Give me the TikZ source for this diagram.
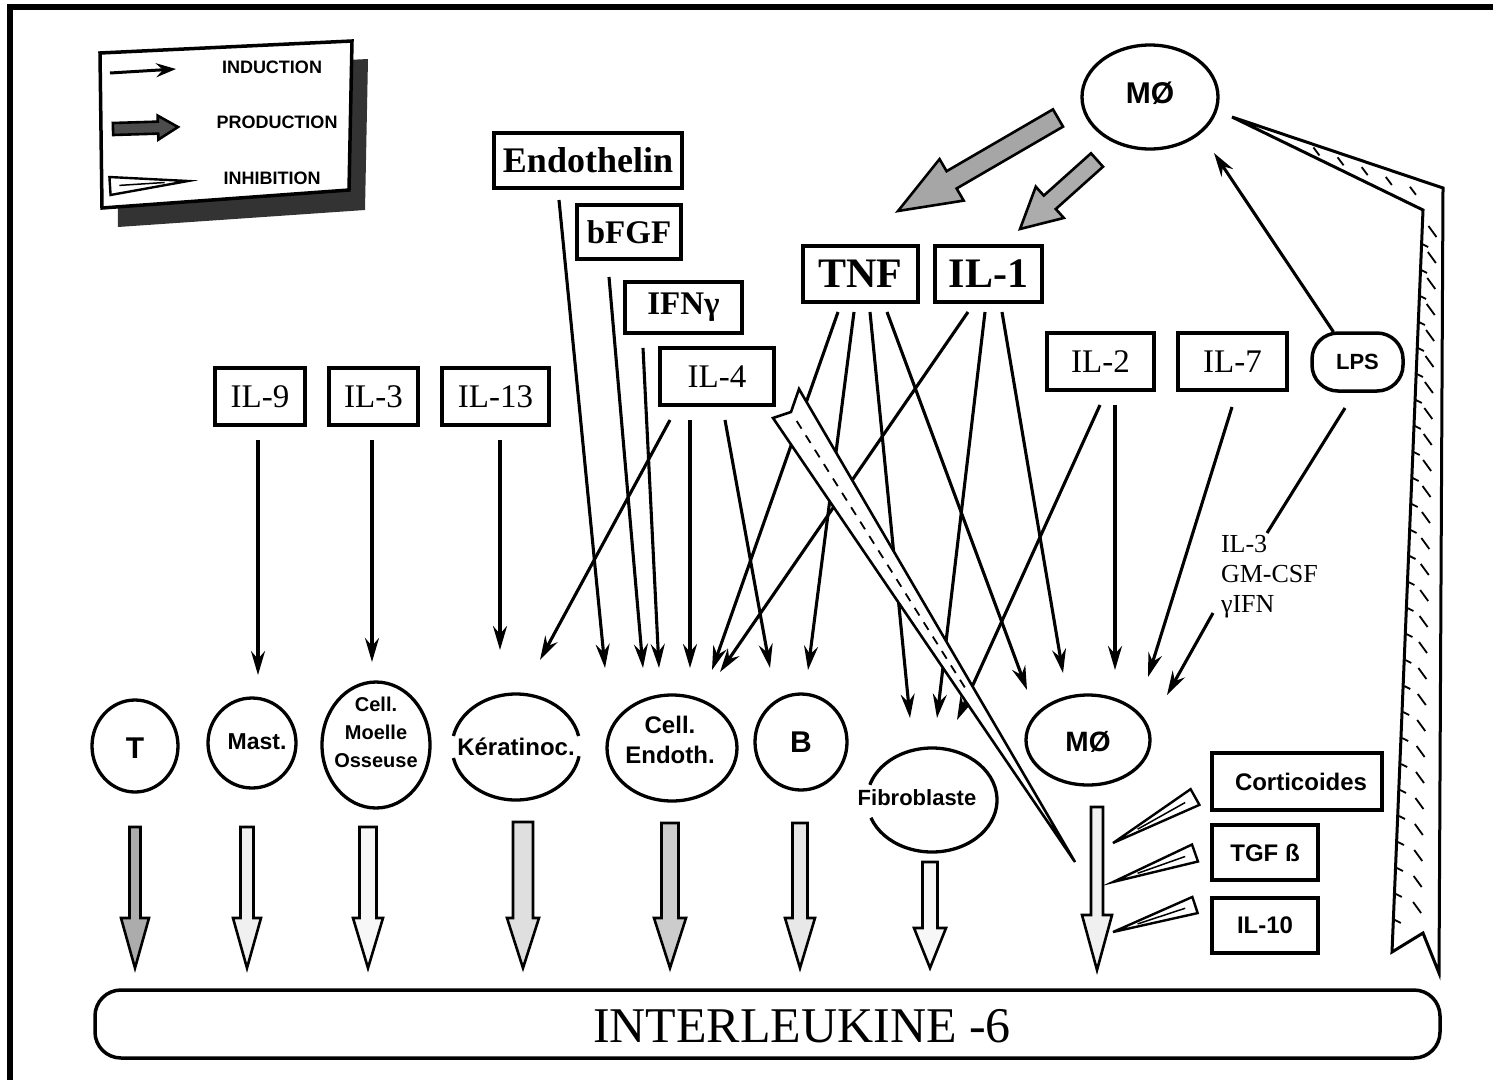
\documentclass[tikz,border=0pt]{standalone}
\usepackage{fontspec}
\setmainfont{Liberation Serif}
\setsansfont{Liberation Sans}
\usetikzlibrary{arrows.meta,calc,shapes.geometric}

\newcommand{\fsz}[1]{\fontsize{#1}{#1}\selectfont}

% block arrow: tail, tip, shaft half width, head half width, head length, fill
\newcommand{\blockarr}[6]{%
  \draw[line width=2.6pt, fill=#6, line join=miter]
    ($(#1)!#3!90:(#2)$) -- ($(#2)!#5!(#1)!#3!90:(#2)$) -- ($(#2)!#5!(#1)!#4!90:(#2)$)
    -- (#2) -- ($(#2)!#5!(#1)!#4!-90:(#2)$) -- ($(#2)!#5!(#1)!#3!-90:(#2)$)
    -- ($(#1)!#3!-90:(#2)$) -- cycle;}

% inhibition wedge: wide end, tip, half width
\newcommand{\inhwedge}[3]{%
  \draw[line width=2.4pt, fill=white, line join=miter]
    ($(#1)!#3!90:(#2)$) -- (#2) -- ($(#1)!#3!-90:(#2)$) -- cycle;
  \draw[line width=1.5pt] ($(#1)!0.12!(#2)$) -- ($(#1)!0.7!(#2)$);}

\begin{document}
\begin{tikzpicture}[x=1pt,y=-1pt,
  every node/.style={inner sep=0pt, outer sep=0pt},
  ind/.style={line width=3.1pt, -{Stealth[length=24pt,width=14pt,inset=8pt]}},
  factor/.style={draw, line width=3.5pt, font={\fsz{33}}},
  factorb/.style={factor, font={\fsz{33}\bfseries}},
  cell/.style={draw, line width=3.3pt, ellipse},
  cellfree/.style={ellipse},
  celltxt/.style={font={\sffamily\bfseries\fsz{24}}, align=center},
  sidebox/.style={draw, line width=3.5pt, font={\sffamily\bfseries\fsz{24}}},
  leg/.style={font={\sffamily\bfseries\fsz{18}}},
  arcline/.style={line width=3.3pt},
  hatch/.style={line width=1.8pt}]

\useasboundingbox (0,0) rectangle (1493,1079);
\fill[white] (0,0) rectangle (1493,1079);

% outer frame
\draw[line width=6pt] (10,1085) -- (10,6.5) -- (1500,6.5);

% ---------- legend ----------
\fill[black!80] (116,71) -- (368,59) -- (365,210) -- (118,227) -- cycle;
\draw[line width=3.5pt, fill=white] (100,53) -- (352,41) -- (349,190) -- (102,208) -- cycle;
\coordinate (li1) at (110,73); \coordinate (li2) at (176,69);
\draw[line width=3pt, -{Stealth[length=20pt,width=14pt,inset=7pt]}] (li1) -- (li2);
\node[leg] (lgind) at (272,67) {INDUCTION};
\coordinate (lp1) at (113,129); \coordinate (lp2) at (178,127);
\blockarr{lp1}{lp2}{6pt}{12pt}{20pt}{black!70}
\node[leg] (lgprod) at (277,122) {PRODUCTION};
\coordinate (lw1) at (110,186); \coordinate (lw2) at (188,181);
\inhwedge{lw1}{lw2}{9pt}
\node[leg] (lginh) at (272,178) {INHIBITION};

% ---------- macrophage (top) ----------
\node[cell, minimum width=136pt, minimum height=104pt] (mtop) at (1150,97) {};
\node[celltxt, font={\sffamily\bfseries\fsz{30}}] (mtoptxt) at (1150,93) {MØ};

% ---------- factor boxes ----------
\node[factorb, font={\fsz{36}\bfseries}, minimum width=188pt, minimum height=55pt] (endo) at (588,160.5) {Endothelin};
\node[factorb, minimum width=104pt, minimum height=54pt] (bfgf) at (629,232) {bFGF};
\node[factorb, minimum width=117pt, minimum height=51pt] (ifng) at (683.5,307.5) {IFNγ};
\node[factor, minimum width=114pt, minimum height=57pt] (il4) at (717,376.5) {IL-4};
\node[factorb, font={\fsz{42}\bfseries}, minimum width=115pt, minimum height=56pt] (tnf) at (860.5,274) {TNF};
\node[factorb, font={\fsz{42}\bfseries}, minimum width=107pt, minimum height=56pt] (il1) at (988.5,274) {IL-1};
\node[factor, minimum width=90pt, minimum height=57pt] (il9) at (260,396.5) {IL-9};
\node[factor, minimum width=89pt, minimum height=57pt] (il3) at (373.5,396.5) {IL-3};
\node[factor, minimum width=107pt, minimum height=57pt] (il13) at (495.5,396.5) {IL-13};
\node[factor, minimum width=107pt, minimum height=57pt] (il2) at (1100.5,361.5) {IL-2};
\node[factor, minimum width=109pt, minimum height=57pt] (il7) at (1232.5,361.5) {IL-7};
\node[draw, line width=3.5pt, rounded corners=26pt, minimum width=91pt, minimum height=58pt,
      font={\sffamily\bfseries\fsz{22}}] (lps) at (1357.5,362) {LPS};

% ---------- target cells ----------
\node[cell, minimum width=86pt, minimum height=92pt] (tc) at (135,746) {};
\node[celltxt, font={\sffamily\bfseries\fsz{30}}] (tct) at (135,748) {T};
\node[cell, minimum width=88pt, minimum height=90pt] (mast) at (252,743) {};
\node[celltxt, font={\sffamily\bfseries\fsz{23}}] (mastt) at (257,742) {Mast.};
\node[cell, minimum width=108pt, minimum height=126pt] (moel) at (376,745) {};
\node[celltxt, font={\sffamily\bfseries\fontsize{20}{28}\selectfont}] (moelt) at (376,732) {Cell.\\Moelle\\Osseuse};
\node[cellfree, minimum width=128pt, minimum height=106pt] (ker) at (516,747) {};
\draw[arcline] (ker.center) ++(12:64pt and 53pt) arc[start angle=12, end angle=168, x radius=64pt, y radius=53pt];
\draw[arcline] (ker.center) ++(192:64pt and 53pt) arc[start angle=192, end angle=350, x radius=64pt, y radius=53pt];
\node[celltxt] (kert) at (516,747) {Kératinoc.};
\node[cell, minimum width=130pt, minimum height=106pt] (endc) at (672,748) {};
\node[celltxt, font={\sffamily\bfseries\fontsize{24}{30}\selectfont}] (endct) at (670,740) {Cell.\\Endoth.};
\node[cell, minimum width=92pt, minimum height=96pt] (bc) at (801,742) {};
\node[celltxt, font={\sffamily\bfseries\fsz{30}}] (bct) at (801,742) {B};
\node[cellfree, minimum width=130pt, minimum height=104pt] (fib) at (932,800) {};
\draw[arcline] (fib.center) ++(200:65pt and 52pt) arc[start angle=200, end angle=523, x radius=65pt, y radius=52pt];
\node[celltxt, font={\sffamily\bfseries\fsz{22}}] (fibt) at (917,798) {Fibroblaste};
\node[cell, minimum width=124pt, minimum height=90pt] (mb) at (1088,740) {};
\node[celltxt, font={\sffamily\bfseries\fsz{28}}] (mbt) at (1088,742) {MØ};

% ---------- inhibitors ----------
\node[sidebox, minimum width=170pt, minimum height=57pt] (cort) at (1297,781.5) {\hspace*{8pt}Corticoides};
\node[sidebox, minimum width=106pt, minimum height=55pt] (tgf) at (1265,852.5) {TGF ß};
\node[sidebox, minimum width=106pt, minimum height=55pt] (il10) at (1265,925.5) {IL-10};

% ---------- result bar ----------
\node[draw, line width=3.5pt, rounded corners=26pt, minimum width=1345pt, minimum height=68pt] (bar) at (767.5,1024) {};
\node[font={\fsz{50}}] (bartxt) at (802,1026) {INTERLEUKINE -6};

% ---------- production by the macrophage ----------
\coordinate (pa1) at (1058,118); \coordinate (pa2) at (898,211);
\blockarr{pa1}{pa2}{10pt}{24pt}{62pt}{gray!70}
\coordinate (pb1) at (1097,160); \coordinate (pb2) at (1020,229);
\blockarr{pb1}{pb2}{9pt}{21pt}{40pt}{gray!65}

% ---------- inhibition band from the macrophage ----------
\coordinate (bt) at (1232,117);
\coordinate (bcm) at (1433,199);
\draw[line width=3pt, fill=white, line join=miter]
  (bt) -- (1443,188) -- (1439,973) -- (1423,933) -- (1392,952) -- (1423,210) -- cycle;
\foreach \yy in {232,258,...,920} {
  \pgfmathsetmacro{\xin}{1423-0.0404*(\yy-210)}
  \pgfmathsetmacro{\xout}{1443-0.0051*(\yy-188)}
  \pgfmathsetmacro{\xc}{(\xin+\xout)/2}
  \draw[hatch] (\xc-4,\yy-6) -- (\xc+4,\yy+5);
  \draw[hatch] (\xin,\yy+12) -- (\xin+6,\yy+15);
}
\foreach \t in {0.42,0.54,0.66,0.78,0.9} {
  \draw[hatch] ($(bt)!\t!(bcm)$) ++(-3,-4) -- ++(6,8);
}

% ---------- induction arrows ----------
\draw[ind] ($(il9.south)+(-2,15)$) -- ($(mast.north)+(6,-23)$);
\draw[ind] ($(il3.south)+(-1.5,15)$) -- ($(moel.north)+(-4,-20)$);
\draw[ind] ($(il13.south)+(4.5,15)$) -- ($(ker.north)+(-16,-44)$);
\draw[ind] ($(endo.south)+(-29,12)$) -- ($(endc.north)+(-67,-27)$);
\draw[ind] ($(bfgf.south)+(-20,18)$) -- ($(endc.north)+(-29,-27)$);
\draw[ind] ($(ifng.south)+(-40.5,15)$) -- ($(endc.north)+(-13,-27)$);
\draw[ind] ($(il4.south)+(-47,15)$) -- ($(ker.north)+(24,-34)$);
\draw[ind] ($(il4.south)+(-27,15)$) -- ($(endc.north)+(18,-27)$);
\draw[ind] ($(il4.south)+(8,15)$) -- ($(bc.north)+(-31,-26)$);
\draw[ind] ($(tnf.south)+(-22.5,10)$) -- ($(endc.north)+(40,-25)$);
\draw[ind] ($(tnf.south)+(-6.5,10)$) -- ($(bc.north)+(7,-24)$);
\draw[ind] ($(tnf.south)+(9.5,10)$) -- ($(fib.north)+(-22,-30)$);
\draw[ind] ($(tnf.south)+(26.5,10)$) -- ($(mb.north)+(-61,-5)$);
\draw[ind] ($(il1.south)+(-20.5,10)$) -- ($(endc.north)+(48,-23)$);
\draw[ind] ($(il1.south)+(-3.5,10)$) -- ($(fib.north)+(5,-30)$);
\draw[ind] ($(il1.south)+(13.5,10)$) -- ($(mb.north)+(-25,-22)$);
\draw[ind] ($(il2.south)+(-0.5,15)$) -- ($(fib.north)+(25,-28)$);
\draw[ind] ($(il2.south)+(14.5,15)$) -- ($(mb.north)+(27,-25)$);
\draw[ind] ($(il7.south)+(-0.5,17)$) -- ($(mb.north)+(60,-18)$);
\draw[ind] ($(lps.north)+(-24,-1)$) -- ($(mtop.center)+(64,56)$);

\node[font={\fontsize{26}{30}\selectfont}, align=left, anchor=west] (cyto) at (1221,577) {IL-3\\GM-CSF\\γIFN};
\coordinate (cytotop) at (1267,533);
\coordinate (cytobot) at (1213,613);
\draw[line width=3.1pt] ($(lps.south)+(-12.5,17)$) -- (cytotop);
\draw[ind] (cytobot) -- ($(mb.north)+(79,0)$);

% ---------- IL-4 inhibition wedge ----------
\coordinate (w4t) at (1075,862);
\coordinate (w4a) at (791,412);
\draw[line width=2.6pt, fill=white, line join=miter]
  (w4t) -- (773,418) -- (w4a) -- (799,389) -- cycle;
\draw[line width=1.8pt, dash pattern=on 9pt off 8pt] ($(w4a)!0.02!(w4t)$) -- ($(w4a)!0.62!(w4t)$);

% ---------- production towards IL-6 ----------
\coordinate (dT1) at ($(tc.south)+(0,35)$);   \coordinate (dT2) at ($(tc.south |- bar.north)+(0,-22)$);
\blockarr{dT1}{dT2}{5.5pt}{14pt}{50pt}{gray!65}
\coordinate (dM1) at ($(mast.south)+(-5,39)$); \coordinate (dM2) at ($(mast.south |- bar.north)+(-5,-22)$);
\blockarr{dM1}{dM2}{6.5pt}{14pt}{50pt}{gray!12}
\coordinate (dO1) at ($(moel.south)+(-8,19)$); \coordinate (dO2) at ($(moel.south |- bar.north)+(-8,-22)$);
\blockarr{dO1}{dO2}{8.5pt}{15pt}{50pt}{gray!6}
\coordinate (dK1) at ($(ker.south)+(7,22)$);  \coordinate (dK2) at ($(ker.south |- bar.north)+(7,-22)$);
\blockarr{dK1}{dK2}{10pt}{16pt}{50pt}{gray!25}
\coordinate (dE1) at ($(endc.south)+(-2,22)$); \coordinate (dE2) at ($(endc.south |- bar.north)+(-2,-22)$);
\blockarr{dE1}{dE2}{8.5pt}{16pt}{50pt}{gray!40}
\coordinate (dB1) at ($(bc.south)+(-1,33)$);  \coordinate (dB2) at ($(bc.south |- bar.north)+(-1,-22)$);
\blockarr{dB1}{dB2}{7.5pt}{15pt}{50pt}{gray!18}
\coordinate (dF1) at ($(fib.south)+(-2,10)$); \coordinate (dF2) at ($(fib.south |- bar.north)+(-2,-22)$);
\blockarr{dF1}{dF2}{7.5pt}{16pt}{40pt}{gray!6}
\coordinate (dX1) at ($(mb.south)+(9,22)$);   \coordinate (dX2) at ($(mb.south |- bar.north)+(9,-20)$);
\blockarr{dX1}{dX2}{6pt}{15pt}{55pt}{gray!12}

% ---------- inhibition of macrophage IL-6 ----------
\coordinate (w1a) at ($(cort.west)+(-17,15.5)$); \coordinate (w1t) at (1113,843);
\inhwedge{w1a}{w1t}{9pt}
\coordinate (w2a) at ($(tgf.west)+(-17,0.5)$);   \coordinate (w2t) at (1113,882);
\inhwedge{w2a}{w2t}{9pt}
\coordinate (w3a) at ($(il10.west)+(-17,-20.5)$); \coordinate (w3t) at (1113,932);
\inhwedge{w3a}{w3t}{8.5pt}

\end{tikzpicture}
\end{document}
